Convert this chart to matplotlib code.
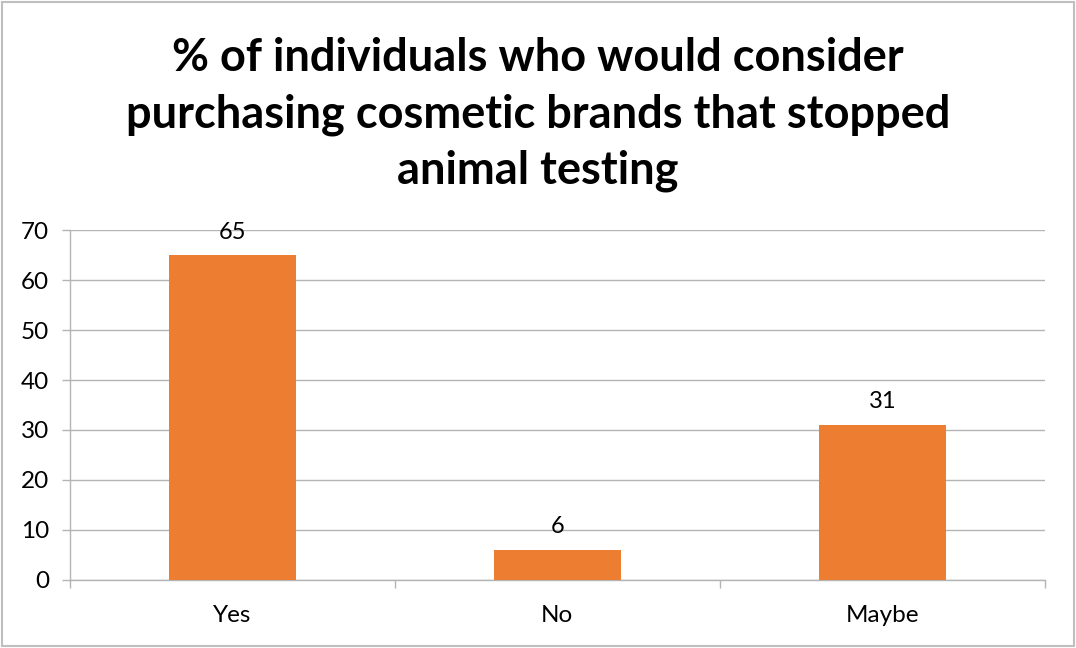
import matplotlib
matplotlib.use('Agg')
import matplotlib.pyplot as plt
from matplotlib.patches import Rectangle

plt.rcParams['font.family'] = ['Lato', 'DejaVu Sans']

# survey answers
categories = ['Yes', 'No', 'Maybe']
counts = [65, 6, 31]
yticks = [0, 10, 20, 30, 40, 50, 60, 70]
title = '% of individuals who would consider\npurchasing cosmetic brands that stopped\nanimal testing'

bar_color = '#ED7D31'
grid_color = '#B4B4B4'

fig = plt.figure(figsize=(10.76, 6.48), dpi=100)
ax = fig.add_axes([0.065, 0.105, 0.906, 0.540])

x = list(range(len(categories)))
bars = ax.bar(x, counts, width=0.39, color=bar_color, zorder=3)

# value labels above each bar
for xi, v in zip(x, counts):
    ax.annotate(str(v), (xi, v), xytext=(0, 9), textcoords='offset points',
                ha='center', va='bottom', fontsize=17, color='black')

ax.set_xlim(-0.5, len(categories) - 0.5)
ax.set_ylim(0, 70)
ax.set_yticks(yticks)
ax.tick_params(axis='y', length=6, width=1, color=grid_color, pad=9, labelsize=17.5)

# category boundaries carry the tick marks, names sit in between
ax.set_xticks([i - 0.5 for i in range(len(categories) + 1)])
ax.set_xticklabels([])
ax.set_xticks(x, minor=True)
ax.set_xticklabels(categories, minor=True)
ax.tick_params(axis='x', which='major', length=6, width=1, color=grid_color, direction='out')
ax.tick_params(axis='x', which='minor', length=0, pad=18, labelsize=17.5)

ax.grid(axis='y', color=grid_color, linewidth=1, zorder=0)
for side in ['top', 'right']:
    ax.spines[side].set_visible(False)
for side in ['left', 'bottom']:
    ax.spines[side].set_color(grid_color)
    ax.spines[side].set_linewidth(1)

fig.text(0.5, 0.823, title, ha='center', va='center', fontsize=32.5,
         fontweight='bold', linespacing=1.42)

# chart frame
fig.patches.append(Rectangle((0.002, 0.003), 0.996, 0.994, transform=fig.transFigure,
                             fill=False, edgecolor='#BFBFBF', linewidth=1.5))

fig.savefig('out.png', dpi=100)
